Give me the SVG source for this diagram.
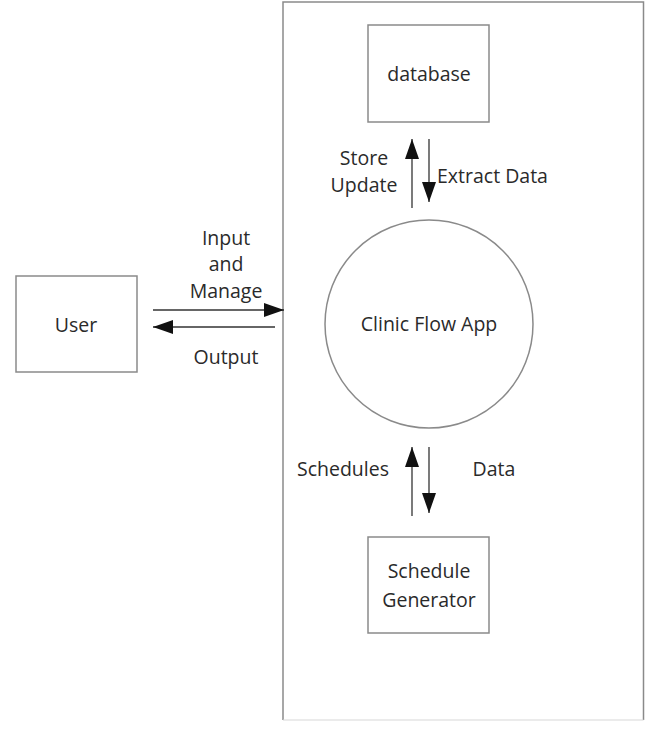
<svg xmlns="http://www.w3.org/2000/svg" width="653" height="732" viewBox="0 0 653 732">
<style>
.box{fill:#fff;stroke:#8a8a8a;stroke-width:1.5}
.ln{stroke:#333;stroke-width:1.3;fill:none}
text{font-family:"Open Sans","Liberation Sans",sans-serif;font-size:19.5px;fill:#2a2a2a}
.c{text-anchor:middle}
</style>
<defs>
<marker id="ah" markerWidth="20" markerHeight="14" refX="20" refY="7" orient="auto" markerUnits="userSpaceOnUse">
<path d="M0,0 L20,7 L0,14 Z" fill="#111"/>
</marker>
</defs>
<rect width="653" height="732" fill="#fff"/>
<g id="system"><path d="M283,720 L283,2 L643.5,2 L643.5,720" fill="none" stroke="#8a8a8a" stroke-width="1.5"/><line x1="283" y1="720" x2="643.5" y2="720" stroke="#d8d8d8" stroke-width="1.2"/></g>
<g id="database"><rect class="box" x="368" y="25" width="121" height="97"/><text class="c" x="429" y="81">database</text></g>
<g id="app"><circle class="box" cx="429" cy="324" r="104"/><text class="c" x="429" y="331">Clinic Flow App</text></g>
<g id="user"><rect class="box" x="16" y="276" width="121" height="96"/><text class="c" x="76" y="332">User</text></g>
<g id="scheduler"><rect class="box" x="368" y="537" width="121" height="96"/><text class="c" x="429" y="578">Schedule</text><text class="c" x="429" y="607">Generator</text></g>
<g id="connectors">
<line class="ln" x1="412" y1="208" x2="412" y2="139" marker-end="url(#ah)"/>
<line class="ln" x1="429" y1="139" x2="429" y2="202" marker-end="url(#ah)"/>
<line class="ln" x1="153" y1="310" x2="284" y2="310" marker-end="url(#ah)"/>
<line class="ln" x1="275" y1="327" x2="153" y2="327" marker-end="url(#ah)"/>
<line class="ln" x1="412" y1="516" x2="412" y2="447" marker-end="url(#ah)"/>
<line class="ln" x1="429" y1="447" x2="429" y2="513" marker-end="url(#ah)"/>
<text class="c" x="364" y="165">Store</text>
<text class="c" x="364" y="192">Update</text>
<text x="437" y="183">Extract Data</text>
<text class="c" x="226" y="245">Input</text>
<text class="c" x="226" y="271">and</text>
<text class="c" x="226" y="298">Manage</text>
<text class="c" x="226" y="364">Output</text>
<text x="389" y="476" text-anchor="end">Schedules</text>
<text class="c" x="494" y="476">Data</text>
</g>
</svg>
